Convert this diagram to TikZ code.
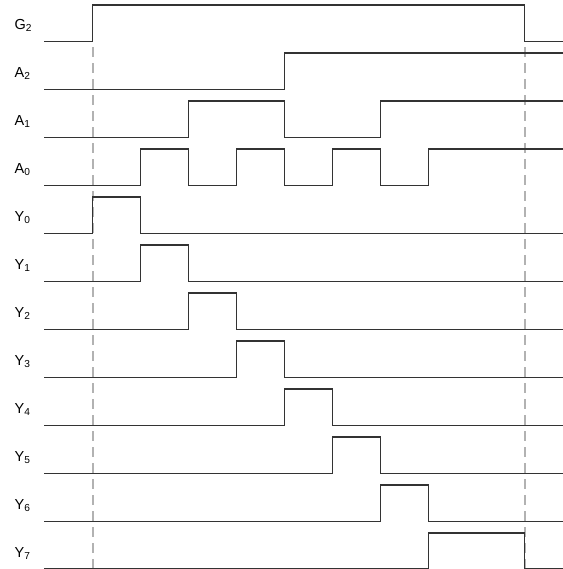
\documentclass[tikz,border=0pt]{standalone}
\usepackage{fontspec}
\setmainfont{Liberation Sans}
\begin{document}
\begin{tikzpicture}[x=1pt,y=-1pt,
  wave/.style={line width=1.5pt, black!80, line join=miter, line cap=rect},
  guide/.style={line width=1.8pt, black!30, dash pattern=on 10pt off 6pt},
  lbl/.style={font=\fontsize{14.5}{15}\selectfont, anchor=base west, inner sep=0pt}]
\useasboundingbox (0,0) rectangle (562,569);
% guide lines
\coordinate (gtop1) at (92.7,47.3);
\coordinate (gbot1) at (92.7,569);
\coordinate (gtop2) at (524.7,47.3);
\coordinate (gbot2) at (524.7,569);
\draw[guide] (gtop1) -- (gbot1);
\draw[guide] (gtop2) -- (gbot2);
% labels
\node[lbl] (lG2) at (14.5,29.3) {G\textsubscript{2}};
\node[lbl] (lA2) at (14.5,77.3) {A\textsubscript{2}};
\node[lbl] (lA1) at (14.5,125.3) {A\textsubscript{1}};
\node[lbl] (lA0) at (14.5,173.3) {A\textsubscript{0}};
\node[lbl] (lY0) at (14.5,221.3) {Y\textsubscript{0}};
\node[lbl] (lY1) at (14.5,269.3) {Y\textsubscript{1}};
\node[lbl] (lY2) at (14.5,317.3) {Y\textsubscript{2}};
\node[lbl] (lY3) at (14.5,365.3) {Y\textsubscript{3}};
\node[lbl] (lY4) at (14.5,413.3) {Y\textsubscript{4}};
\node[lbl] (lY5) at (14.5,461.3) {Y\textsubscript{5}};
\node[lbl] (lY6) at (14.5,509.3) {Y\textsubscript{6}};
\node[lbl] (lY7) at (14.5,557.3) {Y\textsubscript{7}};
% waveforms
% G2: low 41.6, high 5.1
\draw[wave] (45,41.6) -- (92.7,41.6) -- (92.7,5.1) -- (524.7,5.1) -- (524.7,41.6) -- (562,41.6);
% A2: low 89.6, high 53.1
\draw[wave] (45,89.6) -- (284.7,89.6) -- (284.7,53.1) -- (562,53.1);
% A1: low 137.6, high 101.1
\draw[wave] (45,137.6) -- (188.7,137.6) -- (188.7,101.1) -- (284.7,101.1) -- (284.7,137.6) -- (380.7,137.6) -- (380.7,101.1) -- (562,101.1);
% A0: low 185.6, high 149.1
\draw[wave] (45,185.6) -- (140.7,185.6) -- (140.7,149.1) -- (188.7,149.1) -- (188.7,185.6) -- (236.7,185.6) -- (236.7,149.1) -- (284.7,149.1) -- (284.7,185.6) -- (332.7,185.6) -- (332.7,149.1) -- (380.7,149.1) -- (380.7,185.6) -- (428.7,185.6) -- (428.7,149.1) -- (562,149.1);
% Y0..Y6
\foreach \k in {0,...,6}{
  \pgfmathsetmacro{\lo}{233.6+48*\k}
  \pgfmathsetmacro{\hi}{\lo-36.5}
  \pgfmathsetmacro{\xa}{92.7+48*\k}
  \pgfmathsetmacro{\xb}{\xa+48}
  \draw[wave] (45,\lo) -- (\xa,\lo) -- (\xa,\hi) -- (\xb,\hi) -- (\xb,\lo) -- (562,\lo);
}
% Y7
\draw[wave] (45,569) -- (428.7,569) -- (428.7,533.1) -- (524.7,533.1) -- (524.7,569) -- (562,569);
\end{tikzpicture}
\end{document}
